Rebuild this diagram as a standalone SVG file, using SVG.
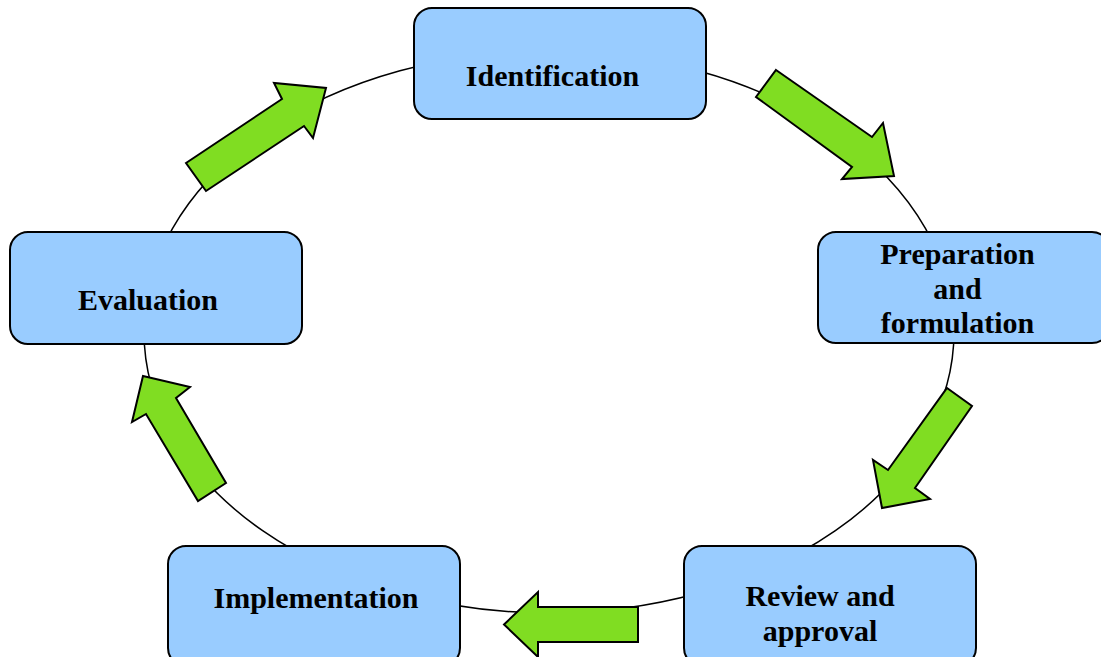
<svg xmlns="http://www.w3.org/2000/svg" width="1101" height="657" viewBox="0 0 1101 657">
  <style>
    .box { fill: #99CCFF; stroke: #000; stroke-width: 2; }
    .lbl { font-family: "Liberation Serif", "Times New Roman", serif; font-weight: bold; font-size: 30px; fill: #000; text-anchor: middle; }
    .ring { fill: none; stroke: #000; stroke-width: 1.5; }
    .blk { fill: #80DD22; stroke: #000; stroke-width: 2; stroke-linejoin: miter; }
  </style>
  <rect width="1101" height="657" fill="#fff"/>

  <!-- cycle ring and block arrows -->
  <g id="connectors">
    <ellipse class="ring" cx="549" cy="332" rx="405" ry="281"/>
    <polygon class="blk" points="186,163 282,99 274,83 326,88 313,138 304,126 206,191"/>
    <polygon class="blk" points="776,70 872,137 883,123 894,176 842,179 852,167 756,97"/>
    <polygon class="blk" points="947,388 972,406 915,488 930,499 882,508 873,460 888,470"/>
    <polygon class="blk" points="638,607 538,607 538,592 504,624.5 538,657 538,642 638,642"/>
    <polygon class="blk" points="143,376 190,387 176,398 226,483 198,501 146,414 132,422"/>
  </g>

  <g id="identification">
    <rect class="box" x="414" y="8" width="292" height="111" rx="18"/>
    <text class="lbl" x="552.5" y="86">Identification</text>
  </g>

  <g id="preparation">
    <rect class="box" x="818" y="232" width="292" height="111" rx="18"/>
    <text class="lbl" x="957.5" y="264">Preparation</text>
    <text class="lbl" x="957.5" y="299">and</text>
    <text class="lbl" x="957.5" y="333">formulation</text>
  </g>

  <g id="review">
    <rect class="box" x="684" y="546" width="292" height="120" rx="18"/>
    <text class="lbl" x="820" y="606">Review and</text>
    <text class="lbl" x="820" y="641">approval</text>
  </g>

  <g id="implementation">
    <rect class="box" x="168" y="546" width="292" height="120" rx="18"/>
    <text class="lbl" x="316" y="608">Implementation</text>
  </g>

  <g id="evaluation">
    <rect class="box" x="10" y="232" width="292" height="112" rx="18"/>
    <text class="lbl" x="148" y="310">Evaluation</text>
  </g>
</svg>
